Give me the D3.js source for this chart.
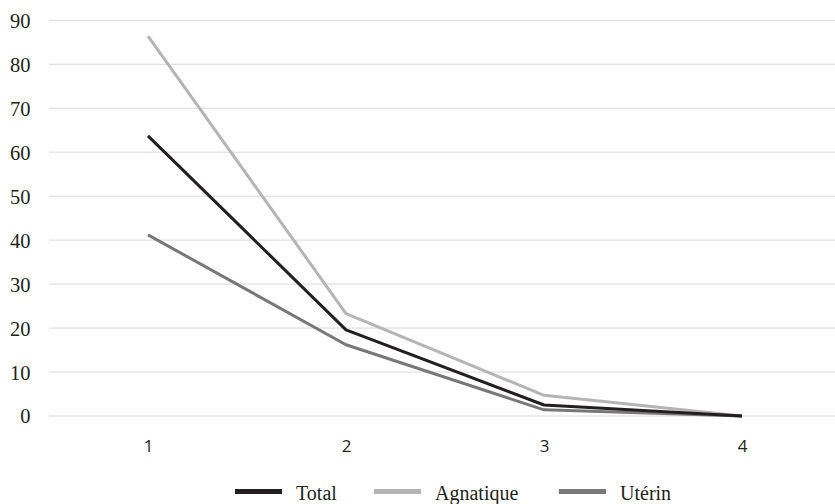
<!DOCTYPE html>
<html><head><meta charset="utf-8">
<script src="https://cdn.jsdelivr.net/npm/d3@7"></script>
<style>body{margin:0;background:#fff}svg{display:block}</style>
</head><body>
<svg id="c" width="835" height="504"></svg>
<script>
const categories = [1, 2, 3, 4];
const total = [63.7, 19.6, 2.5, 0];
const agnatique = [86.4, 23.3, 4.7, 0];
const uterin = [41.2, 16.2, 1.4, 0];
const yTicks = [0, 10, 20, 30, 40, 50, 60, 70, 80, 90];
const seriesNames = ["Total", "Agnatique", "Utérin"];
const seriesColors = ["#231f20", "#b5b5b5", "#787878"];

const svg = d3.select("#c");
const x = d3.scalePoint().domain(categories).range([148, 742]);
const y = d3.scaleLinear().domain([0, 90]).range([416, 20.3]);

// gridlines
svg.append("g").selectAll("line").data(yTicks).join("line")
  .attr("x1", 49).attr("x2", 835)
  .attr("y1", d => y(d)).attr("y2", d => y(d))
  .attr("stroke", "#d9d9d9").attr("stroke-width", 1);

// y axis labels
const yAxis = d3.axisLeft(y).tickValues(yTicks).tickSize(0).tickPadding(0);
const gy = svg.append("g").attr("transform", "translate(30.5,0)").call(yAxis);
gy.select(".domain").remove();
gy.selectAll("text").attr("font-family", "'Liberation Serif', 'Times New Roman', serif")
  .attr("font-size", 20.5).attr("fill", "#231f20").attr("dy", "0.34em");

// x axis labels
const xAxis = d3.axisBottom(x).tickSize(0).tickPadding(0);
const gx = svg.append("g").attr("transform", "translate(0,440)").call(xAxis);
gx.select(".domain").remove();
gx.selectAll("text").attr("font-family", "'Open Sans', 'Noto Sans', sans-serif")
  .attr("font-size", 17).attr("fill", "#262626").attr("dy", "0.71em");

const line = d3.line().x((d, i) => x(categories[i])).y(d => y(d));
const allSeries = [total, agnatique, uterin];
// draw order: Agnatique, Utérin, Total on top
[1, 2, 0].forEach(k => {
  svg.append("path").datum(allSeries[k])
    .attr("d", line).attr("fill", "none")
    .attr("stroke", seriesColors[k]).attr("stroke-width", 3)
    .attr("stroke-linejoin", "round");
});

// legend
const legX = [235, 374, 559];
const lg = svg.append("g");
seriesNames.forEach((n, i) => {
  lg.append("line").attr("x1", legX[i]).attr("x2", legX[i] + 47)
    .attr("y1", 491.5).attr("y2", 491.5)
    .attr("stroke", seriesColors[i]).attr("stroke-width", 5);
  lg.append("text").attr("x", legX[i] + 61).attr("y", 500)
    .attr("font-family", "'Liberation Serif', 'Times New Roman', serif")
    .attr("font-size", 20).attr("fill", "#231f20").text(n);
});
</script>
</body></html>
